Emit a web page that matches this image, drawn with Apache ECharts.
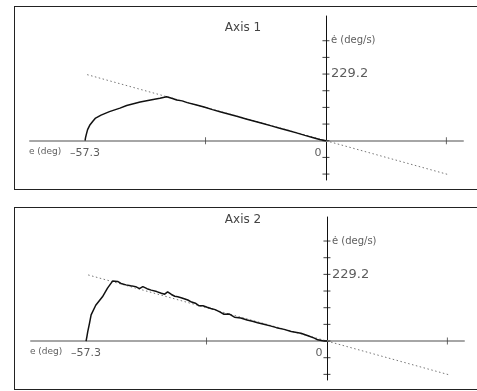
<!DOCTYPE html>
<html>
<head>
<meta charset="utf-8">
<script src="https://cdn.jsdelivr.net/npm/echarts@6/dist/echarts.min.js"></script>
<style>html,body{margin:0;padding:0;background:#fff}#c{width:477px;height:391px}</style>
</head>
<body>
<div id="c"></div>
<script>
// ---- data (e in deg, ė in deg/s) ----
const panelTitles = ['Axis 1', 'Axis 2'];
const xTickLabels = [-57.3];
const yTickLabels = [229.2, 343.8];
const yTicks = [-114.6, -57.3, 0, 57.3, 114.6, 171.9, 229.2, 286.5, 343.8];
const xTicks = [-28.65, 28.65];

// switching line ė = -4·e (dotted)
const lineE = [-56.8, 29.0];
const lineEdot = [227.2, -116.0];

// Axis 1 measured trajectory
const axis1E = [-57.3, -57.2, -57.0, -56.7, -56.2, -55.5, -54.8, -53.5, -51.5, -49.0, -47.4, -44.2, -41.1, -39.5, -37.9,
  -36.5, -35.5, -34.2, -33.0, -31.0, -29.0, -27.0, -25.0, -23.0, -21.0, -19.0, -17.0, -15.0, -13.0, -11.0,
  -9.0, -7.0, -5.0, -3.0, -1.5, 0];
const axis1Edot = [0, 10, 22, 38, 53, 66, 78, 88, 100, 112, 121, 133, 142, 146, 151,
  145, 140, 137, 131, 124, 116, 107, 99, 91, 83, 75, 67, 59, 51, 43,
  35, 27, 18.5, 10.5, 4.5, 0];

// Axis 2 measured trajectory
const axis2E = [-57.3, -57.1, -56.9, -56.5, -56.1, -55.0, -53.4, -52.2, -51.0, -50.6, -49.8, -49.0, -47.8,
  -46.7, -45.5, -44.6, -43.8, -42.8, -41.8, -40.5, -39.4, -38.6, -37.9, -37.0, -36.2, -35.5, -34.5, -33.1,
  -32.2, -31.3, -30.4, -29.5, -28.5, -27.6, -26.6, -25.5, -24.5, -23.3, -22.0, -20.5, -19.0, -17.5, -16.5,
  -15.0, -13.5, -12.0, -10.2, -8.5, -6.2, -4.5, -3.0, -2.2, -1.0, 0];
const axis2Edot = [0, 15, 32, 60, 90, 123, 152, 182, 206, 210, 205, 198, 193,
  190, 187, 180, 187, 180, 175, 170, 164, 161, 169, 160, 154, 152, 148, 141,
  134, 130, 121, 121, 116, 112, 108, 100, 92, 93, 82, 79, 72, 67, 63,
  58, 52, 46, 40, 33, 27, 18, 10, 4, 1, 0];

const zip = (a, b) => a.map((v, i) => [v, b[i]]);

const chart = echarts.init(document.getElementById('c'), null, {renderer: 'canvas'});
const FONT = 'DejaVu Sans';
const grids = [
  {left: 30, right: 14, top: 16, bottom: 211},
  {left: 31, right: 13, top: 217, bottom: 11}
];
const xAxes = grids.map((g, i) => ({
  type: 'value', gridIndex: i, min: -70.4, max: 32.6,
  axisLine: {show: true, onZero: true, lineStyle: {color: '#a6a6a6', width: 2}},
  axisTick: {show: false}, splitLine: {show: false}, axisLabel: {show: false}
}));
const yAxes = grids.map((g, i) => ({
  type: 'value', gridIndex: i, min: i === 0 ? -135 : -134, max: i === 0 ? 428.8 : 426.4,
  axisLine: {show: true, onZero: true, lineStyle: {color: '#111', width: 1}},
  axisTick: {show: false}, splitLine: {show: false}, axisLabel: {show: false}
}));

const series = [];
[[axis1E, axis1Edot], [axis2E, axis2Edot]].forEach((d, i) => {
  series.push({
    type: 'line', xAxisIndex: i, yAxisIndex: i, data: zip(lineE, lineEdot),
    showSymbol: false, silent: true, z: 2,
    lineStyle: {color: '#777', width: 1, type: [1.5, 2.5]}
  });
  series.push({
    type: 'line', xAxisIndex: i, yAxisIndex: i, data: zip(d[0], d[1]),
    showSymbol: false, silent: true, z: 3,
    lineStyle: {color: '#111', width: 1.5}
  });
  // y-axis cross ticks
  series.push({
    type: 'scatter', xAxisIndex: i, yAxisIndex: i, data: yTicks.map(v => [0, v]),
    symbol: 'rect', symbolSize: [7, 1], itemStyle: {color: '#111'}, silent: true, z: 4
  });
  // x-axis ticks
  series.push({
    type: 'scatter', xAxisIndex: i, yAxisIndex: i, data: xTicks.map(v => [v, 0]),
    symbol: 'rect', symbolSize: [1, 7], itemStyle: {color: '#444'}, silent: true, z: 4
  });
  // y tick labels, placed beside the axis at their values
  series.push({
    type: 'scatter', xAxisIndex: i, yAxisIndex: i, data: yTickLabels.map(v => [0, v]),
    symbolSize: 0, silent: true, z: 5,
    label: {show: true, position: [5, 0], align: 'left', verticalAlign: 'middle',
      formatter: p => (p.value[1] > 300 ? '{u|\u0117 (deg/s)}' : '{n|229.2}'),
      rich: {u: {fontFamily: FONT, fontSize: 10, color: '#333'},
             n: {fontFamily: FONT, fontSize: 13, color: '#333'}}}
  });
  // x tick labels under the axis
  series.push({
    type: 'scatter', xAxisIndex: i, yAxisIndex: i, data: xTickLabels.map(v => [v, 0]),
    symbolSize: 0, silent: true, z: 5,
    label: {show: true, position: [0, 12], align: 'center', verticalAlign: 'middle',
      formatter: p => '\u2013' + Math.abs(p.value[0]).toFixed(1),
      fontFamily: FONT, fontSize: 11, color: '#333'}
  });
  // origin label
  series.push({
    type: 'scatter', xAxisIndex: i, yAxisIndex: i, data: [[0, 0]],
    symbolSize: 0, silent: true, z: 5,
    label: {show: true, position: [-8, 12], align: 'center', verticalAlign: 'middle',
      formatter: '0', fontFamily: FONT, fontSize: 11, color: '#333'}
  });
  // horizontal axis name
  series.push({
    type: 'scatter', xAxisIndex: i, yAxisIndex: i, data: xTickLabels.map(v => [v, 0]),
    symbolSize: 0, silent: true, z: 5,
    label: {show: true, position: [-40, 11], align: 'center', verticalAlign: 'middle',
      formatter: 'e (deg)', fontFamily: FONT, fontSize: 9, color: '#333'}
  });
});

const graphic = [];
const panels = [{top: 6, bottom: 189, titleY: 28}, {top: 207, bottom: 389, titleY: 220}];
panels.forEach((p, i) => {
  const ls = {stroke: '#222', lineWidth: 1};
  graphic.push({type: 'line', shape: {x1: 14.5, y1: p.top + 0.5, x2: 477, y2: p.top + 0.5}, style: ls, silent: true});
  graphic.push({type: 'line', shape: {x1: 14.5, y1: p.bottom + 0.5, x2: 477, y2: p.bottom + 0.5}, style: ls, silent: true});
  graphic.push({type: 'line', shape: {x1: 14.5, y1: p.top, x2: 14.5, y2: p.bottom + 1}, style: ls, silent: true});
  graphic.push({type: 'text', x: 243, y: p.titleY, style: {text: panelTitles[i], font: '12px "' + FONT + '"',
    fill: '#444', align: 'center', verticalAlign: 'middle'}, silent: true});
});

chart.setOption({
  animation: false,
  backgroundColor: '#fff',
  grid: grids, xAxis: xAxes, yAxis: yAxes, series: series, graphic: graphic
});
</script>
</body>
</html>
